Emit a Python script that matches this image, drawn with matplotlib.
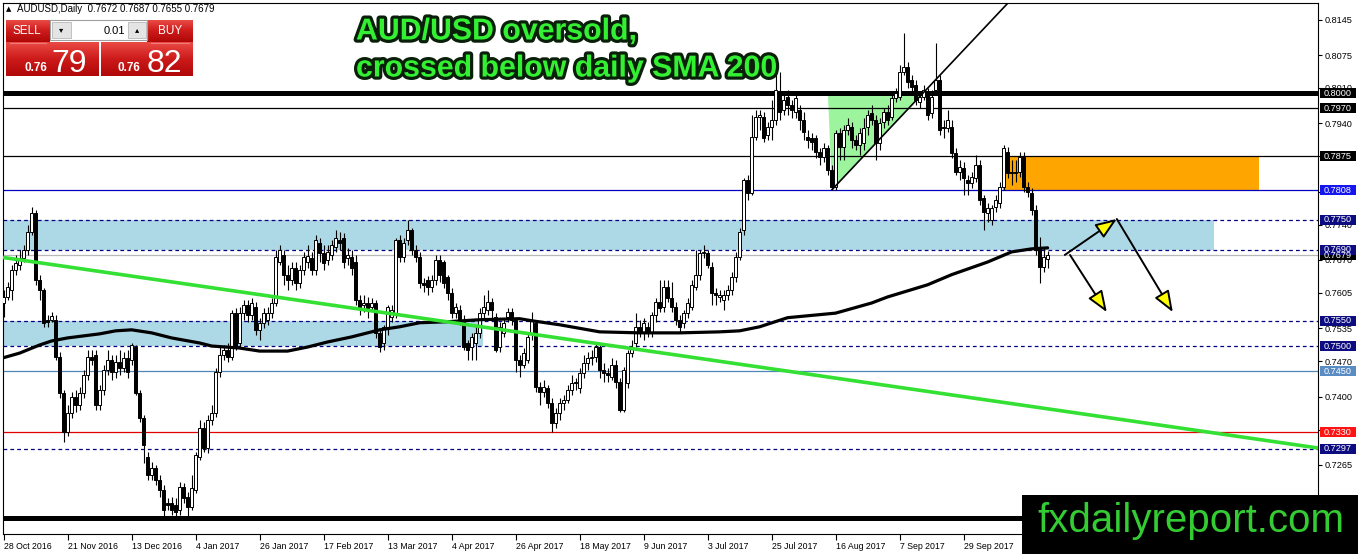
import matplotlib
matplotlib.use("Agg")
import matplotlib.pyplot as plt
import matplotlib.patheffects as pe
from matplotlib.patches import Rectangle, Polygon, FancyArrowPatch
from matplotlib.colors import LinearSegmentedColormap
import numpy as np

# ---------------- data (AUDUSD daily, bar index 0 = 28 Oct 2016) ----------------
opens = [
    0.7585, 0.7597, 0.7611, 0.7650, 0.7660, 0.7674, 0.7690, 0.7726, 0.7763, 0.7631,
    0.7611, 0.7552, 0.7552, 0.7552, 0.7478, 0.7407, 0.7330, 0.7368, 0.7399, 0.7384,
    0.7407, 0.7443, 0.7478, 0.7482, 0.7384, 0.7413, 0.7453, 0.7473, 0.7449, 0.7469,
    0.7457, 0.7477, 0.7473, 0.7498, 0.7407, 0.7358, 0.7281, 0.7245, 0.7259, 0.7235,
    0.7216, 0.7190, 0.7190, 0.7186, 0.7176, 0.7222, 0.7202, 0.7182, 0.7216, 0.7281,
    0.7338, 0.7299, 0.7354, 0.7368, 0.7449, 0.7482, 0.7492, 0.7478, 0.7565, 0.7506,
    0.7565, 0.7581, 0.7561, 0.7577, 0.7532, 0.7546, 0.7552, 0.7565, 0.7585, 0.7666,
    0.7680, 0.7641, 0.7631, 0.7654, 0.7625, 0.7650, 0.7666, 0.7674, 0.7650, 0.7704,
    0.7684, 0.7670, 0.7680, 0.7696, 0.7710, 0.7714, 0.7674, 0.7676, 0.7666, 0.7591,
    0.7581, 0.7585, 0.7577, 0.7585, 0.7526, 0.7506, 0.7538, 0.7557, 0.7565, 0.7710,
    0.7676, 0.7710, 0.7730, 0.7690, 0.7676, 0.7625, 0.7631, 0.7617, 0.7631, 0.7670,
    0.7666, 0.7637, 0.7605, 0.7565, 0.7571, 0.7552, 0.7506, 0.7498, 0.7506, 0.7526,
    0.7565, 0.7571, 0.7587, 0.7557, 0.7498, 0.7526, 0.7557, 0.7567, 0.7552, 0.7473,
    0.7463, 0.7473, 0.7526, 0.7546, 0.7419, 0.7409, 0.7417, 0.7388, 0.7348, 0.7368,
    0.7388, 0.7394, 0.7413, 0.7429, 0.7417, 0.7447, 0.7467, 0.7477, 0.7478, 0.7498,
    0.7453, 0.7447, 0.7439, 0.7463, 0.7429, 0.7374, 0.7427, 0.7486, 0.7506, 0.7538,
    0.7526, 0.7538, 0.7528, 0.7561, 0.7587, 0.7577, 0.7617, 0.7595, 0.7577, 0.7552,
    0.7546, 0.7565, 0.7577, 0.7617, 0.7641, 0.7684, 0.7684, 0.7656, 0.7605, 0.7597,
    0.7591, 0.7601, 0.7611, 0.7637, 0.7676, 0.7730, 0.7828, 0.7803, 0.7913, 0.7953,
    0.7953, 0.7917, 0.7933, 0.7947, 0.8000, 0.7967, 0.7992, 0.7976, 0.7963, 0.7967,
    0.7947, 0.7913, 0.7911, 0.7911, 0.7884, 0.7874, 0.7892, 0.7848, 0.7814, 0.7921,
    0.7893, 0.7927, 0.7933, 0.7907, 0.7897, 0.7901, 0.7933, 0.7961, 0.7947, 0.7901,
    0.7943, 0.7963, 0.7953, 0.7990, 0.7992, 0.8042, 0.8052, 0.8026, 0.8016, 0.7982,
    0.7992, 0.8000, 0.7961, 0.8006, 0.8026, 0.7933, 0.7931, 0.7933, 0.7882, 0.7844,
    0.7852, 0.7828, 0.7822, 0.7832, 0.7858, 0.7793, 0.7763, 0.7749, 0.7775, 0.7783,
    0.7814, 0.7884, 0.7844, 0.7844, 0.7844, 0.7874, 0.7814, 0.7803, 0.7769, 0.7696,
    0.7656, 0.7672,
]
highs = [
    0.7611, 0.7627, 0.7660, 0.7680, 0.7690, 0.7700, 0.7739, 0.7775, 0.7769, 0.7641,
    0.7615, 0.7561, 0.7567, 0.7561, 0.7488, 0.7413, 0.7384, 0.7409, 0.7413, 0.7419,
    0.7453, 0.7492, 0.7492, 0.7492, 0.7423, 0.7463, 0.7492, 0.7482, 0.7482, 0.7492,
    0.7488, 0.7492, 0.7506, 0.7502, 0.7413, 0.7364, 0.7291, 0.7271, 0.7265, 0.7245,
    0.7225, 0.7200, 0.7202, 0.7200, 0.7231, 0.7229, 0.7212, 0.7245, 0.7291, 0.7354,
    0.7350, 0.7364, 0.7384, 0.7457, 0.7502, 0.7502, 0.7506, 0.7571, 0.7575, 0.7577,
    0.7591, 0.7591, 0.7595, 0.7587, 0.7556, 0.7575, 0.7577, 0.7595, 0.7690, 0.7700,
    0.7690, 0.7660, 0.7666, 0.7666, 0.7660, 0.7686, 0.7700, 0.7686, 0.7720, 0.7714,
    0.7700, 0.7700, 0.7710, 0.7730, 0.7726, 0.7724, 0.7694, 0.7690, 0.7680, 0.7601,
    0.7601, 0.7597, 0.7595, 0.7591, 0.7532, 0.7542, 0.7581, 0.7581, 0.7714, 0.7720,
    0.7714, 0.7749, 0.7733, 0.7700, 0.7686, 0.7635, 0.7639, 0.7641, 0.7680, 0.7680,
    0.7670, 0.7641, 0.7615, 0.7585, 0.7581, 0.7561, 0.7512, 0.7526, 0.7542, 0.7575,
    0.7601, 0.7611, 0.7595, 0.7565, 0.7548, 0.7556, 0.7575, 0.7575, 0.7556, 0.7482,
    0.7496, 0.7528, 0.7567, 0.7552, 0.7429, 0.7433, 0.7423, 0.7397, 0.7378, 0.7397,
    0.7403, 0.7423, 0.7443, 0.7437, 0.7457, 0.7482, 0.7488, 0.7492, 0.7506, 0.7502,
    0.7467, 0.7457, 0.7477, 0.7473, 0.7437, 0.7459, 0.7492, 0.7512, 0.7565, 0.7552,
    0.7556, 0.7548, 0.7567, 0.7595, 0.7631, 0.7631, 0.7631, 0.7627, 0.7587, 0.7561,
    0.7571, 0.7595, 0.7631, 0.7690, 0.7690, 0.7700, 0.7690, 0.7666, 0.7615, 0.7611,
    0.7611, 0.7621, 0.7646, 0.7686, 0.7733, 0.7832, 0.7838, 0.7957, 0.7967, 0.7967,
    0.7963, 0.7943, 0.7986, 0.8065, 0.8042, 0.7996, 0.8006, 0.7986, 0.8000, 0.7976,
    0.7963, 0.7927, 0.7921, 0.7917, 0.7892, 0.7901, 0.7897, 0.7858, 0.7927, 0.7931,
    0.7937, 0.7951, 0.7943, 0.7917, 0.7931, 0.7951, 0.7967, 0.7976, 0.7957, 0.7951,
    0.7971, 0.7976, 0.8000, 0.8010, 0.8056, 0.8119, 0.8061, 0.8036, 0.8026, 0.8002,
    0.8016, 0.8010, 0.8006, 0.8099, 0.8036, 0.7947, 0.7967, 0.7947, 0.7892, 0.7868,
    0.7864, 0.7838, 0.7844, 0.7878, 0.7868, 0.7799, 0.7783, 0.7779, 0.7799, 0.7824,
    0.7897, 0.7893, 0.7868, 0.7868, 0.7884, 0.7884, 0.7824, 0.7812, 0.7779, 0.7716,
    0.7694, 0.7687,
]
lows = [
    0.7557, 0.7591, 0.7591, 0.7641, 0.7650, 0.7666, 0.7680, 0.7720, 0.7621, 0.7591,
    0.7538, 0.7538, 0.7548, 0.7473, 0.7397, 0.7310, 0.7322, 0.7358, 0.7370, 0.7374,
    0.7397, 0.7433, 0.7463, 0.7374, 0.7374, 0.7403, 0.7443, 0.7433, 0.7437, 0.7443,
    0.7449, 0.7437, 0.7463, 0.7403, 0.7350, 0.7269, 0.7235, 0.7235, 0.7225, 0.7202,
    0.7162, 0.7176, 0.7166, 0.7162, 0.7166, 0.7190, 0.7162, 0.7176, 0.7210, 0.7275,
    0.7291, 0.7289, 0.7344, 0.7360, 0.7439, 0.7473, 0.7469, 0.7473, 0.7492, 0.7498,
    0.7552, 0.7548, 0.7552, 0.7522, 0.7512, 0.7536, 0.7542, 0.7556, 0.7579, 0.7660,
    0.7621, 0.7611, 0.7621, 0.7611, 0.7615, 0.7641, 0.7654, 0.7641, 0.7641, 0.7666,
    0.7650, 0.7660, 0.7670, 0.7686, 0.7690, 0.7654, 0.7660, 0.7641, 0.7581, 0.7561,
    0.7567, 0.7556, 0.7571, 0.7516, 0.7488, 0.7492, 0.7522, 0.7548, 0.7556, 0.7666,
    0.7666, 0.7700, 0.7680, 0.7666, 0.7615, 0.7607, 0.7601, 0.7607, 0.7621, 0.7627,
    0.7615, 0.7591, 0.7556, 0.7556, 0.7542, 0.7492, 0.7473, 0.7473, 0.7473, 0.7516,
    0.7556, 0.7561, 0.7556, 0.7488, 0.7488, 0.7518, 0.7548, 0.7542, 0.7449, 0.7439,
    0.7457, 0.7467, 0.7512, 0.7409, 0.7384, 0.7399, 0.7378, 0.7330, 0.7338, 0.7354,
    0.7374, 0.7388, 0.7403, 0.7413, 0.7407, 0.7437, 0.7453, 0.7463, 0.7469, 0.7437,
    0.7429, 0.7429, 0.7433, 0.7417, 0.7370, 0.7370, 0.7417, 0.7478, 0.7498, 0.7518,
    0.7512, 0.7518, 0.7518, 0.7548, 0.7567, 0.7567, 0.7587, 0.7567, 0.7542, 0.7528,
    0.7536, 0.7556, 0.7571, 0.7611, 0.7631, 0.7674, 0.7654, 0.7581, 0.7581, 0.7587,
    0.7571, 0.7591, 0.7601, 0.7627, 0.7670, 0.7720, 0.7789, 0.7799, 0.7907, 0.7927,
    0.7903, 0.7907, 0.7907, 0.7937, 0.7947, 0.7957, 0.7957, 0.7951, 0.7951, 0.7927,
    0.7907, 0.7892, 0.7888, 0.7872, 0.7858, 0.7864, 0.7838, 0.7809, 0.7809, 0.7868,
    0.7868, 0.7917, 0.7892, 0.7888, 0.7878, 0.7888, 0.7917, 0.7937, 0.7868, 0.7888,
    0.7931, 0.7937, 0.7947, 0.7982, 0.7986, 0.8036, 0.8010, 0.8002, 0.7976, 0.7971,
    0.7986, 0.7947, 0.7951, 0.7996, 0.7917, 0.7911, 0.7923, 0.7872, 0.7838, 0.7828,
    0.7799, 0.7799, 0.7812, 0.7824, 0.7779, 0.7730, 0.7745, 0.7739, 0.7765, 0.7773,
    0.7809, 0.7832, 0.7818, 0.7824, 0.7834, 0.7805, 0.7795, 0.7759, 0.7680, 0.7625,
    0.7646, 0.7655,
]
closes = [
    0.7597, 0.7617, 0.7650, 0.7664, 0.7674, 0.7690, 0.7726, 0.7763, 0.7631, 0.7611,
    0.7546, 0.7548, 0.7559, 0.7478, 0.7407, 0.7330, 0.7368, 0.7399, 0.7384, 0.7407,
    0.7443, 0.7478, 0.7473, 0.7384, 0.7413, 0.7453, 0.7473, 0.7449, 0.7469, 0.7457,
    0.7477, 0.7449, 0.7502, 0.7407, 0.7358, 0.7305, 0.7245, 0.7259, 0.7235, 0.7216,
    0.7176, 0.7186, 0.7176, 0.7172, 0.7222, 0.7200, 0.7182, 0.7220, 0.7285, 0.7338,
    0.7299, 0.7354, 0.7368, 0.7449, 0.7482, 0.7492, 0.7478, 0.7565, 0.7498, 0.7565,
    0.7581, 0.7561, 0.7585, 0.7532, 0.7546, 0.7565, 0.7565, 0.7585, 0.7676, 0.7690,
    0.7641, 0.7631, 0.7654, 0.7625, 0.7650, 0.7676, 0.7678, 0.7650, 0.7710, 0.7684,
    0.7664, 0.7686, 0.7700, 0.7714, 0.7704, 0.7666, 0.7680, 0.7654, 0.7591, 0.7577,
    0.7585, 0.7575, 0.7585, 0.7526, 0.7498, 0.7538, 0.7577, 0.7571, 0.7710, 0.7676,
    0.7704, 0.7730, 0.7690, 0.7676, 0.7625, 0.7621, 0.7617, 0.7631, 0.7670, 0.7641,
    0.7625, 0.7605, 0.7565, 0.7577, 0.7552, 0.7498, 0.7492, 0.7518, 0.7526, 0.7565,
    0.7577, 0.7587, 0.7571, 0.7492, 0.7538, 0.7546, 0.7567, 0.7552, 0.7473, 0.7463,
    0.7486, 0.7518, 0.7552, 0.7419, 0.7409, 0.7419, 0.7388, 0.7348, 0.7368, 0.7388,
    0.7394, 0.7413, 0.7427, 0.7427, 0.7447, 0.7467, 0.7477, 0.7478, 0.7498, 0.7453,
    0.7447, 0.7443, 0.7463, 0.7429, 0.7374, 0.7453, 0.7486, 0.7498, 0.7538, 0.7528,
    0.7546, 0.7528, 0.7561, 0.7587, 0.7575, 0.7617, 0.7595, 0.7577, 0.7552, 0.7538,
    0.7565, 0.7585, 0.7621, 0.7641, 0.7684, 0.7686, 0.7660, 0.7605, 0.7601, 0.7601,
    0.7601, 0.7611, 0.7637, 0.7676, 0.7726, 0.7828, 0.7803, 0.7913, 0.7953, 0.7957,
    0.7911, 0.7933, 0.7947, 0.8006, 0.7963, 0.7986, 0.7976, 0.7967, 0.7990, 0.7947,
    0.7923, 0.7907, 0.7903, 0.7884, 0.7874, 0.7892, 0.7848, 0.7814, 0.7921, 0.7893,
    0.7927, 0.7937, 0.7907, 0.7897, 0.7921, 0.7931, 0.7957, 0.7947, 0.7901, 0.7941,
    0.7963, 0.7947, 0.7990, 0.8000, 0.8042, 0.8052, 0.8022, 0.8012, 0.7986, 0.7992,
    0.8006, 0.7957, 0.7992, 0.8026, 0.7927, 0.7931, 0.7947, 0.7882, 0.7844, 0.7854,
    0.7832, 0.7822, 0.7834, 0.7858, 0.7789, 0.7765, 0.7773, 0.7773, 0.7789, 0.7814,
    0.7892, 0.7842, 0.7842, 0.7842, 0.7874, 0.7814, 0.7805, 0.7769, 0.7690, 0.7656,
    0.7676, 0.7679,
]

date_bars = [0, 16, 32, 48, 64, 80, 96, 112, 128, 144, 160, 176, 192, 208, 224, 240]
date_labels = ['28 Oct 2016', '21 Nov 2016', '13 Dec 2016', '4 Jan 2017', '26 Jan 2017',
               '17 Feb 2017', '13 Mar 2017', '4 Apr 2017', '26 Apr 2017', '18 May 2017',
               '9 Jun 2017', '3 Jul 2017', '25 Jul 2017', '16 Aug 2017', '7 Sep 2017',
               '29 Sep 2017']

sma_bars = [0, 4, 9, 12, 16, 24, 28, 32, 37, 42, 49, 52, 59, 64, 71, 76, 81, 87, 94, 99,
            104, 111, 119, 129, 132, 139, 149, 159, 169, 179, 184, 189, 196, 208, 217,
            221, 231, 237, 246, 249, 252, 257, 261]
sma_values = [0.7477, 0.7486, 0.7502, 0.7510, 0.7516, 0.7524, 0.7530, 0.7532, 0.7526,
              0.7516, 0.7506, 0.7500, 0.7496, 0.7490, 0.7490, 0.7498, 0.7508, 0.7518,
              0.7532, 0.7538, 0.7546, 0.7548, 0.7552, 0.7554, 0.7550, 0.7542, 0.7528,
              0.7526, 0.7526, 0.7528, 0.7530, 0.7538, 0.7556, 0.7565, 0.7585, 0.7597,
              0.7621, 0.7641, 0.7666, 0.7676, 0.7686, 0.7692, 0.7694]

ytick_prices = [0.8145, 0.8075, 0.8010, 0.7940, 0.7875, 0.7805, 0.7740, 0.7670, 0.7605,
                0.7535, 0.7470, 0.7400, 0.7335, 0.7265, 0.7200]

thick_levels = [0.8000, 0.7160]
solid_levels = [0.7970, 0.7875, 0.7808, 0.7679, 0.7450, 0.7330]
solid_colors = ['black', 'black', '#0000c0', '#b8b8b8', '#4f86b8', '#e00000']
dashed_levels = [0.7750, 0.7690, 0.7550, 0.7500, 0.7297]

box_prices = [0.8000, 0.7970, 0.7875, 0.7808, 0.7750, 0.7679, 0.7690, 0.7550, 0.7500,
              0.7450, 0.7330, 0.7297]
box_colors = ['black', 'black', 'black', '#1515f0', '#0c0c80', 'black', '#0c0c80',
              '#0c0c80', '#0c0c80', '#5a8cc4', '#ff1414', '#0c0c80']

zone_bars = [(-1, 302.6), (-1, 119.9)]
zone_prices = [(0.7690, 0.7750), (0.7500, 0.7550)]
orange_bars = (249.9, 313.9)
orange_prices = (0.7808, 0.7875)
triangle_bars = [206.1, 207.1, 229.1]
triangle_prices = [0.7994, 0.7809, 0.7994]
trend_bars = [207.1, 251.1]
trend_prices = [0.7809, 0.8178]
support_bars = [-1, 329]
support_prices = [0.7676, 0.7298]
arrow_from_bars = [265.3, 278.3, 266.6]
arrow_from_prices = [0.7680, 0.7751, 0.7680]
arrow_to_bars = [278.3, 292.3, 275.8]
arrow_to_prices = [0.7751, 0.7567, 0.7567]

# ---------------- figure ----------------
W, H = 1358, 554
fig = plt.figure(figsize=(W / 100, H / 100), dpi=100)
fig.patch.set_facecolor('white')
L, R, T, B = 3, 1318, 3, 534
YMIN, YMAX = 0.71285, 0.81779
ax = fig.add_axes([L / W, (H - B) / H, (R - L) / W, (B - T) / H])
ax.set_xlim(-0.15, 328.6)
ax.set_ylim(YMIN, YMAX)
ax.set_facecolor('white')
for s in ax.spines.values():
    s.set_color('black')
    s.set_linewidth(0.8)

# zones
for (b0, b1), (p0, p1) in zip(zone_bars, zone_prices):
    ax.add_patch(Rectangle((b0, p0), b1 - b0, p1 - p0, facecolor='#add8e6',
                           edgecolor='none', zorder=1))
ax.add_patch(Rectangle((orange_bars[0], orange_prices[0]), orange_bars[1] - orange_bars[0],
                       orange_prices[1] - orange_prices[0], facecolor='#ffa500',
                       edgecolor='none', zorder=1))
ax.add_patch(Polygon(list(zip(triangle_bars, triangle_prices)), closed=True,
                     facecolor='#9cf59c', edgecolor='none', zorder=1.2))

# levels
for p in thick_levels:
    ax.axhline(p, color='black', lw=3.6, zorder=3)
for p, col in zip(solid_levels, solid_colors):
    ax.axhline(p, color=col, lw=0.9, zorder=2.5)
for p in dashed_levels:
    ax.axhline(p, color='#000080', lw=0.9, dashes=(3, 2.5), zorder=2.5)

# candles
x = np.arange(len(closes))
o = np.array(opens); c = np.array(closes); hi = np.array(highs); lo = np.array(lows)
ax.vlines(x, lo, hi, color='black', lw=0.8, zorder=4)
bull = c >= o
ax.bar(x[bull], (c - o)[bull], bottom=o[bull], width=0.62, color='white',
       edgecolor='black', linewidth=0.7, zorder=5)
ax.bar(x[~bull], (o - c)[~bull], bottom=c[~bull], width=0.62, color='black',
       edgecolor='black', linewidth=0.7, zorder=5)

# moving average & trend lines
ax.plot(sma_bars, sma_values, color='black', lw=2.3, zorder=6, solid_capstyle='round',
        solid_joinstyle='round')
ax.plot(support_bars, support_prices, color='#33e033', lw=2.6, zorder=6)
ax.plot(trend_bars, trend_prices, color='black', lw=1.2, zorder=6)

# arrows
for xa, ya, xb, yb in zip(arrow_from_bars, arrow_from_prices, arrow_to_bars, arrow_to_prices):
    ax.add_patch(FancyArrowPatch((xa, ya), (xb, yb),
                                 arrowstyle='-|>,head_length=1.3,head_width=0.5',
                                 mutation_scale=10, facecolor='#ffff00', edgecolor='black',
                                 lw=1.4, shrinkA=0, shrinkB=0, zorder=7))

# axes ticks
ax.yaxis.tick_right()
ax.set_yticks(ytick_prices)
ax.set_yticklabels([f'{p:.4f}' for p in ytick_prices])
ax.tick_params(axis='y', direction='out', length=3, width=0.8, pad=2, labelsize=6.6)
ax.set_xticks(date_bars)
ax.set_xticklabels(date_labels, ha='left')
ax.tick_params(axis='x', direction='out', length=4, width=0.8, pad=2, labelsize=6.3)
for lab in ax.get_xticklabels() + ax.get_yticklabels():
    lab.set_family('Liberation Sans')

# right price boxes
ax_r = fig.add_axes([R / W, (H - B) / H, (W - R) / W, (B - T) / H])
ax_r.set_xlim(0, W - R)
ax_r.set_ylim(YMIN, YMAX)
ax_r.axis('off')
bh = 10 / 5060
for p, col in zip(box_prices, box_colors):
    ax_r.add_patch(Rectangle((1.5, p - bh / 2), 36.5, bh, facecolor=col, edgecolor='none',
                             clip_on=False))
    ax_r.text(5.5, p, f'{p:.4f}', color='white', fontsize=6.6, family='Liberation Sans',
              va='center', ha='left', clip_on=False)

# ---------------- overlay (pixel coordinates) ----------------
ov = fig.add_axes([0, 0, 1, 1])
ov.set_autoscale_on(False)
ov.set_xlim(0, W)
ov.set_ylim(H, 0)
ov.axis('off')

red_cmap = LinearSegmentedColormap.from_list('red', ['#ea4a44', '#cc1a1a', '#b00808'])
grad = np.linspace(0, 1, 64).reshape(-1, 1)


def red_rect(x0, y0, x1, y1):
    ov.imshow(grad, cmap=red_cmap, extent=(x0, x1, y1, y0), origin='upper',
              aspect='auto', zorder=10, interpolation='bilinear')


ov.text(6, 9.5, '\u25B2', fontsize=5, family='DejaVu Sans', va='center', ha='left', zorder=12)
ov.text(17, 9.5, f'AUDUSD,Daily  {opens[-1]:.4f} {highs[-1]:.4f} {lows[-1]:.4f} {closes[-1]:.4f}',
        fontsize=7, family='Liberation Sans', va='center', ha='left', zorder=12)

red_rect(6, 20, 50, 42)
red_rect(147, 20, 193, 42)
red_rect(6, 42, 99, 76)
red_rect(101, 42, 193, 76)
ov.plot([10, 46], [42.5, 42.5], color='#f07a7a', lw=0.8, zorder=11)
ov.plot([151, 189], [42.5, 42.5], color='#f07a7a', lw=0.8, zorder=11)
ov.add_patch(Rectangle((50, 20), 97, 20, facecolor='white', edgecolor='#a0a0a0', lw=0.8, zorder=11))
ov.add_patch(Rectangle((52, 22), 19, 16, facecolor='#e4e4e4', edgecolor='#b8b8b8', lw=0.6, zorder=12))
ov.add_patch(Rectangle((128, 22), 18, 16, facecolor='#e4e4e4', edgecolor='#b8b8b8', lw=0.6, zorder=12))
ov.text(61.5, 30, '\u25BE', fontsize=6, family='DejaVu Sans', ha='center', va='center', zorder=13)
ov.text(137, 30, '\u25B4', fontsize=6, family='DejaVu Sans', ha='center', va='center', zorder=13)
ov.text(125, 30.5, '0.01', fontsize=8, family='Liberation Sans', ha='right', va='center', zorder=13)
ov.text(27, 31, 'SELL', fontsize=8.5, family='Liberation Sans', color='white', ha='center',
        va='center', zorder=13)
ov.text(170, 31, 'BUY', fontsize=8.5, family='Liberation Sans', color='white', ha='center',
        va='center', zorder=13)
ov.text(36, 71, '0.76', fontsize=8.5, fontweight='bold', family='Liberation Sans',
        color='white', ha='center', va='baseline', zorder=13)
ov.text(69, 71.5, '79', fontsize=23, family='Liberation Sans', color='white', ha='center',
        va='baseline', zorder=13)
ov.text(129, 71, '0.76', fontsize=8.5, fontweight='bold', family='Liberation Sans',
        color='white', ha='center', va='baseline', zorder=13)
ov.text(164, 71.5, '82', fontsize=23, family='Liberation Sans', color='white', ha='center',
        va='baseline', zorder=13)

title_fx = [pe.Stroke(linewidth=4.6, foreground='#0a1f0a'), pe.Normal()]
ov.text(356, 39.5, 'AUD/USD oversold,', fontsize=21.8, fontweight='bold',
        family='Liberation Sans', color='#33f033', ha='left', va='baseline',
        path_effects=title_fx, zorder=14)
ov.text(356, 76.5, 'crossed below daily SMA 200', fontsize=21.8, fontweight='bold',
        family='Liberation Sans', color='#33f033', ha='left', va='baseline',
        path_effects=title_fx, zorder=14)

ov.add_patch(Rectangle((1022, 495), W - 1022, H - 495, facecolor='black', edgecolor='none',
                       zorder=15))
ov.text(1037, 532, 'fxdailyreport.com', fontsize=29, family='Liberation Sans',
        color='#33cc33', ha='left', va='baseline', zorder=16)

fig.savefig('out.png', dpi=100)
